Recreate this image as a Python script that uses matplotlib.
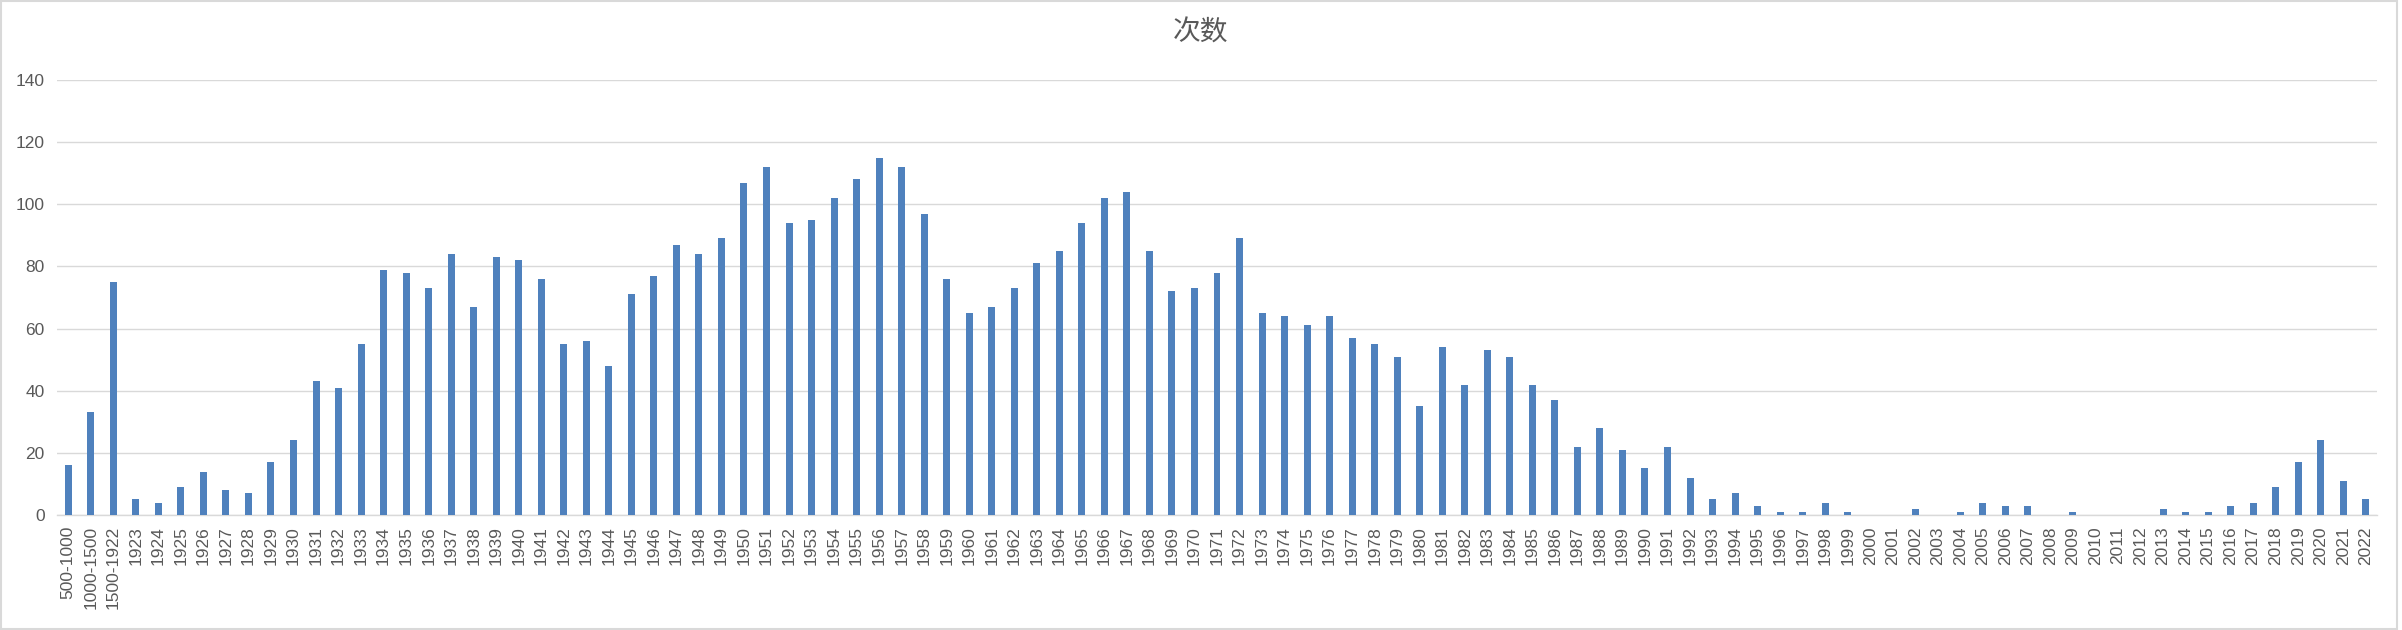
import matplotlib
matplotlib.use("Agg")
import matplotlib.pyplot as plt
from matplotlib.patches import Rectangle

plt.rcParams['font.family'] = ['Liberation Sans', 'Noto Sans CJK SC', 'DejaVu Sans']

# data
periods = ["500-1000", "1000-1500", "1500-1922"]
years = [str(y) for y in range(1923, 2023)]
categories = periods + years

period_counts = [16, 33, 75]
year_counts = [
    5, 4, 9, 14, 8, 7, 17, 24,                      # 1923-1930
    43, 41, 55, 79, 78, 73, 84, 67, 83, 82,         # 1931-1940
    76, 55, 56, 48, 71, 77, 87, 84, 89, 107,        # 1941-1950
    112, 94, 95, 102, 108, 115, 112, 97, 76, 65,    # 1951-1960
    67, 73, 81, 85, 94, 102, 104, 85, 72, 73,       # 1961-1970
    78, 89, 65, 64, 61, 64, 57, 55, 51, 35,         # 1971-1980
    54, 42, 53, 51, 42, 37, 22, 28, 21, 15,         # 1981-1990
    22, 12, 5, 7, 3, 1, 1, 4, 1, 0,                 # 1991-2000
    0, 2, 0, 1, 4, 3, 3, 0, 1, 0,                   # 2001-2010
    0, 0, 2, 1, 1, 3, 4, 9, 17, 24,                 # 2011-2020
    11, 5,                                          # 2021-2022
]
counts = period_counts + year_counts

title = "次数"
y_ticks = [0, 20, 40, 60, 80, 100, 120, 140]

bar_color = "#4F81BD"
grid_color = "#D9D9D9"
text_color = "#595959"

W, H = 2402, 630
fig = plt.figure(figsize=(W / 100, H / 100), dpi=100)
ax = fig.add_axes([57 / W, (H - 515) / H, (2377 - 57) / W, (515 - 80) / H])

x = list(range(len(categories)))
ax.bar(x, counts, width=0.31, color=bar_color, zorder=3)

ax.set_xlim(-0.5, len(categories) - 0.5)
ax.set_ylim(0, 140)
ax.set_yticks(y_ticks)
ax.set_xticks(x)
ax.set_xticklabels(categories, rotation=90, fontsize=12.5, color=text_color)
ax.tick_params(axis="y", labelsize=12.5, colors=text_color, length=0, pad=9)
ax.tick_params(axis="x", length=0, pad=8)

ax.grid(axis="y", color=grid_color, linewidth=1.0, zorder=0)
for side in ["top", "right", "left"]:
    ax.spines[side].set_visible(False)
ax.spines["bottom"].set_color(grid_color)
ax.spines["bottom"].set_linewidth(1.0)

fig.text(0.5, (H - 33) / H, title, ha="center", va="center", fontsize=20,
         color=text_color, family=["Noto Sans CJK SC", "DejaVu Sans"])

# chart border
fig.patches.append(Rectangle((1 / W, 1 / H), (W - 6) / W, (H - 2) / H,
                             transform=fig.transFigure, fill=False,
                             edgecolor=grid_color, linewidth=1.5))

fig.savefig("out.png", dpi=100, facecolor="white")
